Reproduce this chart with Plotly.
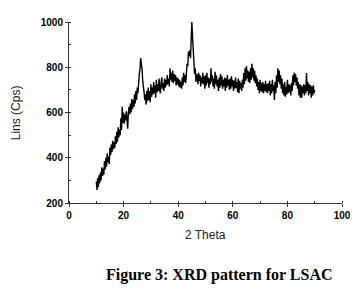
import plotly.graph_objects as go

start_theta = 10.0
step_theta = 0.25

# Intensity (Cps), 4 values per degree from 10 to 90
intensity_10_27 = [
    295, 258, 310, 270,
    322, 288, 335, 300,
    358, 320, 352, 325,
    385, 348, 400, 360,
    420, 380, 405, 372,
    445, 412, 458, 425,
    475, 438, 468, 442,
    495, 460, 515, 470,
    535, 490, 525, 500,
    575, 522, 625, 555,
    600, 550, 590, 565,
    605, 570, 528, 600,
    625, 592, 640, 600,
    660, 615, 655, 625,
    680, 640, 695, 655,
    710, 685, 740, 770,
    790, 840, 815, 795,
]
intensity_27_44 = [
    740, 695, 690, 655,
    680, 635, 695, 650,
    710, 655, 695, 645,
    725, 670, 710, 680,
    735, 685, 720, 665,
    745, 690, 725, 695,
    750, 700, 685, 735,
    755, 705, 730, 695,
    750, 710, 745, 720,
    765, 725, 750, 715,
    795, 745, 775, 735,
    785, 730, 770, 740,
    765, 720, 755, 725,
    750, 715, 745, 710,
    735, 705, 755, 720,
    775, 735, 765, 730,
    795, 815, 805, 870,
]
intensity_44_64 = [
    850, 875, 840, 905,
    1000, 935, 855, 800,
    770, 795, 735, 770,
    760, 725, 775, 740,
    765, 715, 755, 730,
    775, 725, 760, 705,
    765, 720, 775, 730,
    755, 710, 750, 725,
    795, 735, 765, 715,
    750, 705, 780, 725,
    765, 715, 745, 695,
    755, 710, 770, 720,
    760, 705, 745, 715,
    755, 695, 750, 710,
    765, 720, 745, 700,
    750, 705, 760, 715,
    745, 695, 740, 705,
    755, 710, 735, 690,
    750, 685, 740, 705,
    730, 695, 745, 710,
]
intensity_64_90 = [
    775, 725, 795, 740,
    805, 750, 785, 735,
    780, 730, 795, 745,
    815, 755, 795, 740,
    785, 730, 765, 715,
    750, 700, 735, 685,
    745, 695, 730, 690,
    735, 685, 725, 695,
    740, 690, 725, 685,
    730, 695, 740, 675,
    725, 685, 745, 695,
    720, 655, 735, 685,
    765, 710, 795, 735,
    785, 725, 765, 705,
    750, 685, 725, 675,
    735, 670, 715, 680,
    745, 685, 725, 690,
    720, 675, 730, 695,
    765, 720, 775, 735,
    770, 720, 755, 705,
    735, 675, 725, 665,
    720, 665, 715, 685,
    725, 675, 720, 685,
    775, 695, 735, 675,
    725, 685, 720, 665,
    715, 675, 720, 685,
    700,
]

intensity = intensity_10_27 + intensity_27_44 + intensity_44_64 + intensity_64_90
two_theta = [start_theta + i * step_theta for i in range(len(intensity))]

x_ticks = [0, 20, 40, 60, 80, 100]
y_ticks = [200, 400, 600, 800, 1000]

fig = go.Figure()
fig.add_trace(go.Scatter(x=two_theta, y=intensity, mode="lines",
                         line=dict(color="black", width=1.4), showlegend=False))

axis_common = dict(showline=True, linecolor="#333", linewidth=1, showgrid=False,
                   zeroline=False, ticks="outside", ticklen=3, tickcolor="#333",
                   tickfont=dict(family="Arial", size=10, color="black", weight="bold"))

fig.update_xaxes(range=[0, 100], tickvals=x_ticks,
                 minor=dict(dtick=10, ticks="inside", ticklen=2, tickcolor="#333"),
                 **axis_common)
fig.update_yaxes(range=[200, 1000], tickvals=y_ticks,
                 minor=dict(dtick=100, ticks="inside", ticklen=2, tickcolor="#333"),
                 **axis_common)

fig.update_layout(
    width=363, height=293,
    margin=dict(l=69, r=16, t=22, b=90),
    plot_bgcolor="white", paper_bgcolor="white",
    annotations=[
        dict(text="2 Theta", xref="paper", yref="paper", x=0.5, y=-0.175,
             xanchor="center", yanchor="middle", showarrow=False,
             font=dict(family="Arial", size=12, color="#222")),
        dict(text="Lins (Cps)", xref="paper", yref="paper", x=-0.195, y=0.5,
             xanchor="center", yanchor="middle", textangle=-90, showarrow=False,
             font=dict(family="Arial", size=12, color="#222")),
        dict(text="<b>Figure 3: XRD pattern for LSAC</b>", xref="paper", yref="paper",
             x=0.55, y=-0.40, xanchor="center", yanchor="middle", showarrow=False,
             font=dict(family="Liberation Serif", size=16, color="black")),
    ],
)

fig.write_html("out.html")
